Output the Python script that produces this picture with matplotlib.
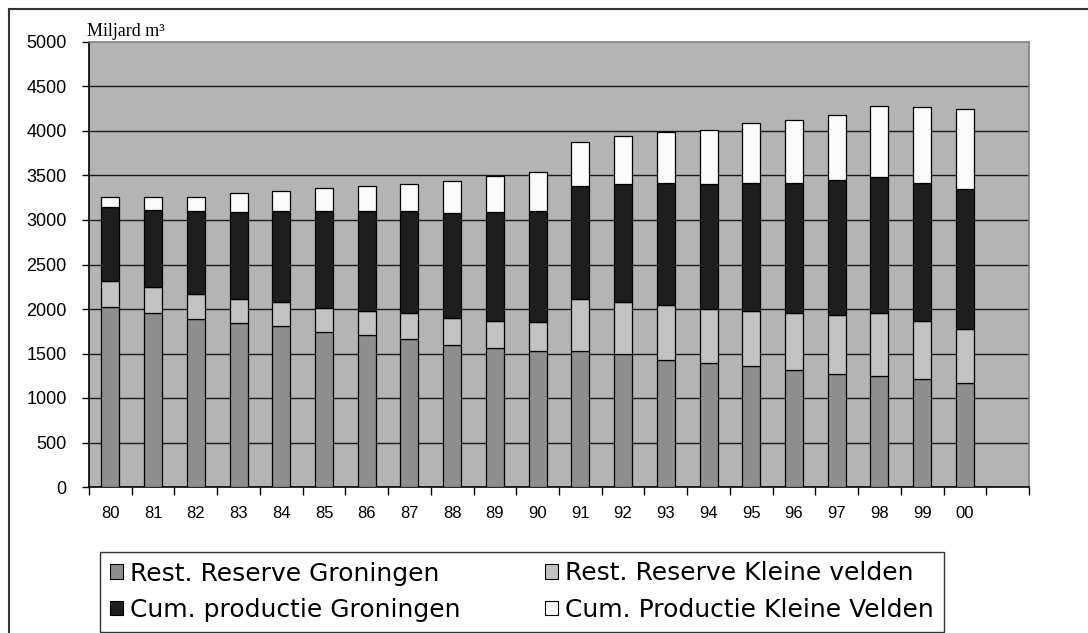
import matplotlib
matplotlib.use("Agg")
import matplotlib.pyplot as plt
import matplotlib.patches as mpatches
from matplotlib.lines import Line2D
import numpy as np

# data (Miljard m3)
jaren = ['80', '81', '82', '83', '84', '85', '86', '87', '88', '89', '90',
         '91', '92', '93', '94', '95', '96', '97', '98', '99', '00']
rest_groningen = [2020, 1950, 1890, 1840, 1805, 1740, 1705, 1660, 1590, 1560, 1525,
                  1525, 1490, 1425, 1390, 1360, 1310, 1275, 1245, 1215, 1170]
rest_kleine = [295, 295, 275, 275, 275, 270, 275, 290, 310, 310, 325,
               590, 590, 620, 605, 620, 640, 660, 705, 655, 610]
cum_groningen = [835, 865, 935, 970, 1020, 1090, 1120, 1150, 1180, 1215, 1250,
                 1270, 1320, 1370, 1405, 1435, 1465, 1515, 1530, 1545, 1565]
cum_kleine = [110, 150, 160, 215, 230, 260, 280, 310, 360, 410, 440,
              495, 545, 575, 610, 675, 710, 725, 805, 855, 905]

labels = ['Rest. Reserve Groningen', 'Cum. productie Groningen',
          'Rest. Reserve Kleine velden', 'Cum. Productie Kleine Velden']
kleuren = ['#8e8e8e', '#1e1e1e', '#c2c2c2', '#fafafa']

W, H = 1088, 633
fig = plt.figure(figsize=(W / 100, H / 100), dpi=100)

# outer frame
fig.add_artist(Line2D([9 / W, 9 / W], [0, 1 - 9 / H], color='#333333', lw=1.5))
fig.add_artist(Line2D([9 / W, 1], [1 - 9 / H, 1 - 9 / H], color='#333333', lw=1.5))

ax = fig.add_axes([89 / W, 1 - 487 / H, (1029 - 89) / W, (487 - 42) / H])
ax.set_facecolor('#b4b4b4')

x = np.arange(len(jaren))
breedte = 0.42
g = np.array(rest_groningen)
k = np.array(rest_kleine)
cg = np.array(cum_groningen)
ck = np.array(cum_kleine)

for y in range(500, 5000, 500):
    ax.axhline(y, color='#1a1a1a', lw=1.0, zorder=1)

kw = dict(width=breedte, edgecolor='black', linewidth=0.9, zorder=3)
ax.bar(x, g, color=kleuren[0], **kw)
ax.bar(x, k, bottom=g, color=kleuren[2], **kw)
ax.bar(x, cg, bottom=g + k, color=kleuren[1], **kw)
ax.bar(x, ck, bottom=g + k + cg, color=kleuren[3], **kw)

ax.set_xlim(-0.5, len(jaren) + 0.5)
ax.set_ylim(0, 5000)
ax.set_yticks(range(0, 5001, 500))
ax.tick_params(axis='y', direction='out', length=5, width=1, pad=11,
               labelsize=13, color='black')
for t in ax.get_yticklabels():
    t.set_family('Liberation Sans')

ax.set_xticks(x)
ax.set_xticklabels(jaren, fontsize=12, family='Liberation Sans')
ax.set_xticks(np.arange(-0.5, len(jaren) + 1, 1), minor=True)
ax.tick_params(axis='x', which='major', length=0, pad=14)
ax.tick_params(axis='x', which='minor', direction='out', length=6, width=1, color='black')

for s in ['top', 'right']:
    ax.spines[s].set_color('#808080')
    ax.spines[s].set_linewidth(1.2)
for s in ['left', 'bottom']:
    ax.spines[s].set_color('black')
    ax.spines[s].set_linewidth(1.2)

fig.text(87 / W, 1 - 35.5 / H, 'Miljard m³', family='Liberation Serif',
         fontsize=13, ha='left', va='baseline')

handles = [mpatches.Patch(facecolor=c, edgecolor='black', linewidth=0.8) for c in kleuren]
leg = fig.legend(handles, labels, ncol=2, loc='lower left',
                 bbox_to_anchor=(100 / W, 1 / H, 844 / W, 83 / H), mode='expand',
                 prop={'family': 'DejaVu Sans', 'size': 18},
                 handlelength=0.52, handleheight=0.52, handletextpad=0.3,
                 labelspacing=0.5, borderpad=0.4, columnspacing=2.5,
                 fancybox=False, frameon=True, borderaxespad=0)
leg.get_frame().set_edgecolor('black')
leg.get_frame().set_linewidth(1.0)

fig.savefig('out.png', dpi=100)
